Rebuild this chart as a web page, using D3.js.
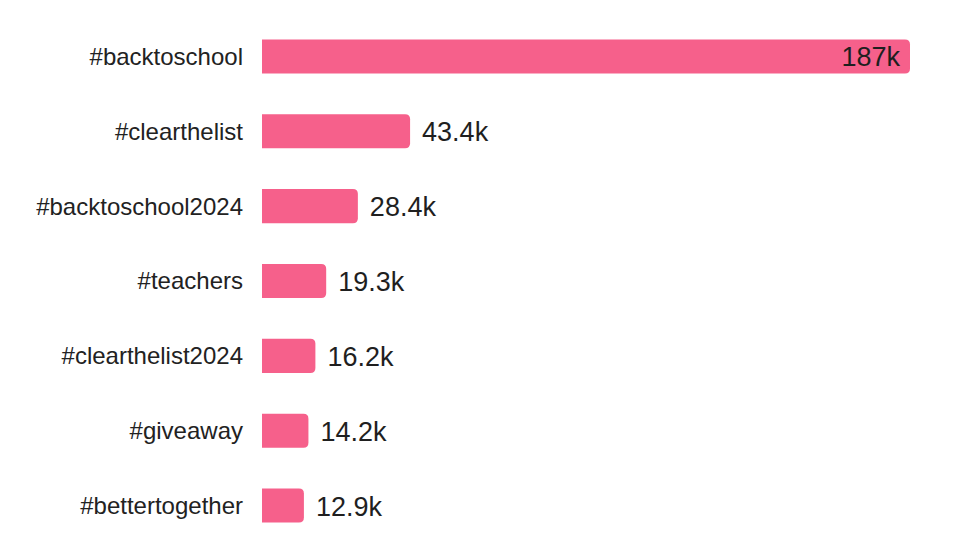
<!DOCTYPE html>
<html>
<head>
<meta charset="utf-8">
<script src="https://cdn.jsdelivr.net/npm/d3@7"></script>
<style>
  html, body { margin: 0; padding: 0; background: #ffffff; }
  svg { display: block; font-family: "Liberation Sans", Arial, Helvetica, sans-serif; }
</style>
</head>
<body>
<svg id="chart" width="978" height="549"></svg>
<script>
const categories = ["#backtoschool", "#clearthelist", "#backtoschool2024", "#teachers", "#clearthelist2024", "#giveaway", "#bettertogether"];
const values = [187, 43.4, 28.4, 19.3, 16.2, 14.2, 12.9];
const valueLabels = ["187k", "43.4k", "28.4k", "19.3k", "16.2k", "14.2k", "12.9k"];

const data = categories.map((c, i) => ({ cat: c, v: values[i], label: valueLabels[i] }));

const svg = d3.select("#chart");
const barStart = 262;

const x = d3.scaleLinear().domain([0, d3.max(values)]).range([259, 910]);
const y = d3.scaleBand().domain(categories).range([19, 543]).paddingInner(0.545).paddingOuter(0.2725);

const barColor = "#f6608b";
const r = 5;

function barPath(x1, x2, y1, h) {
  const rr = Math.min(r, (x2 - x1), h / 2);
  return `M${x1},${y1} H${x2 - rr} Q${x2},${y1} ${x2},${y1 + rr} V${y1 + h - rr} Q${x2},${y1 + h} ${x2 - rr},${y1 + h} H${x1} Z`;
}

const g = svg.append("g");

g.selectAll("path.bar").data(data).enter().append("path")
  .attr("class", "bar")
  .attr("d", d => barPath(barStart, x(d.v), y(d.cat), y.bandwidth()))
  .attr("fill", barColor);

// category labels
g.selectAll("text.cat").data(data).enter().append("text")
  .attr("class", "cat")
  .attr("x", barStart - 19)
  .attr("y", d => y(d.cat) + y.bandwidth() / 2)
  .attr("dy", "0.35em")
  .attr("text-anchor", "end")
  .attr("font-size", 24)
  .attr("fill", "#222")
  .text(d => d.cat);

// value labels
const maxV = d3.max(values);
g.selectAll("text.val").data(data).enter().append("text")
  .attr("class", "val")
  .attr("x", d => d.v === maxV ? x(d.v) - 10 : x(d.v) + 12)
  .attr("y", d => y(d.cat) + y.bandwidth() / 2)
  .attr("dy", "0.37em")
  .attr("text-anchor", d => d.v === maxV ? "end" : "start")
  .attr("font-size", 27)
  .attr("fill", "#1f1f1f")
  .text(d => d.label);
</script>
</body>
</html>
